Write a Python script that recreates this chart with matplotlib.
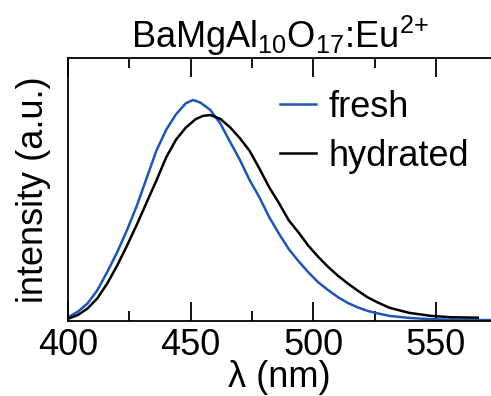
import matplotlib
matplotlib.use("Agg")
import matplotlib.pyplot as plt
from matplotlib.ticker import MultipleLocator

plt.rcParams['font.family'] = ['Liberation Sans', 'DejaVu Sans']
plt.rcParams['mathtext.default'] = 'regular'

# Emission spectra, normalised to the fresh peak
wl_fresh = [400, 404, 408, 412, 416, 420, 424, 428, 432, 436, 440, 444, 448, 451,
            454, 458, 462, 466, 470, 474, 478, 482, 486, 490, 494, 498, 502, 506,
            510, 514, 518, 522, 526, 531, 539, 548, 560, 573]
int_fresh = [0.017, 0.042, 0.08, 0.14, 0.222, 0.31, 0.41, 0.52, 0.645, 0.77, 0.865,
             0.935, 0.985, 1.0, 0.988, 0.955, 0.895, 0.812, 0.73, 0.638, 0.56, 0.47,
             0.395, 0.325, 0.27, 0.22, 0.175, 0.14, 0.108, 0.082, 0.062, 0.046, 0.035,
             0.023, 0.014, 0.008, 0.005, 0.004]

wl_hydr = [400, 404, 408, 412, 416, 420, 424, 428, 432, 436, 440, 444, 448, 452,
           455, 458, 462, 466, 470, 474, 478, 482, 486, 490, 494, 498, 502, 506,
           510, 514, 518, 522, 526, 531, 539, 548, 556, 567]
int_hydr = [0.01, 0.027, 0.057, 0.103, 0.17, 0.25, 0.34, 0.435, 0.535, 0.635, 0.74,
            0.82, 0.875, 0.913, 0.928, 0.932, 0.915, 0.877, 0.828, 0.77, 0.69, 0.605,
            0.533, 0.455, 0.4, 0.34, 0.29, 0.245, 0.205, 0.17, 0.138, 0.108, 0.085,
            0.06, 0.037, 0.023, 0.017, 0.015]

fig = plt.figure(figsize=(4.91, 3.96), dpi=100)
ax = fig.add_axes([68 / 491, 1 - 321 / 396, 1 - 68 / 491, (321 - 58) / 396])

ax.plot(wl_fresh, int_fresh, color='#1f56b4', lw=1.8, label='fresh',
        solid_joinstyle='round')
ax.plot(wl_hydr, int_hydr, color='black', lw=1.8, label='hydrated',
        solid_joinstyle='round')

ax.set_xlim(400, 572.4)
ax.set_ylim(0, 1.19)
ax.xaxis.set_major_locator(MultipleLocator(50))
ax.xaxis.set_minor_locator(MultipleLocator(25))
ax.tick_params(axis='x', which='both', direction='in', top=True, bottom=True,
               labelsize=26, width=1.3, pad=5)
ax.tick_params(axis='x', which='major', length=14)
ax.tick_params(axis='x', which='minor', length=7)
ax.set_yticks([])
ax.spines['right'].set_visible(False)
for s in ['left', 'top', 'bottom']:
    ax.spines[s].set_linewidth(1.3)

ax.set_title(r'BaMgAl$_{10}$O$_{17}$:Eu$^{2{+}}$', fontsize=26, pad=5)
ax.set_xlabel('λ (nm)', fontsize=26, labelpad=-2)
ax.set_ylabel('intensity (a.u.)', fontsize=26, labelpad=12)

ax.legend(loc='upper left', bbox_to_anchor=(280 / 491, 1 - 90 / 396),
          bbox_transform=fig.transFigure, frameon=False, fontsize=26,
          handlelength=1.0, handletextpad=0.35, labelspacing=0.38,
          borderpad=0, borderaxespad=0)

fig.savefig('out.png', dpi=100)
